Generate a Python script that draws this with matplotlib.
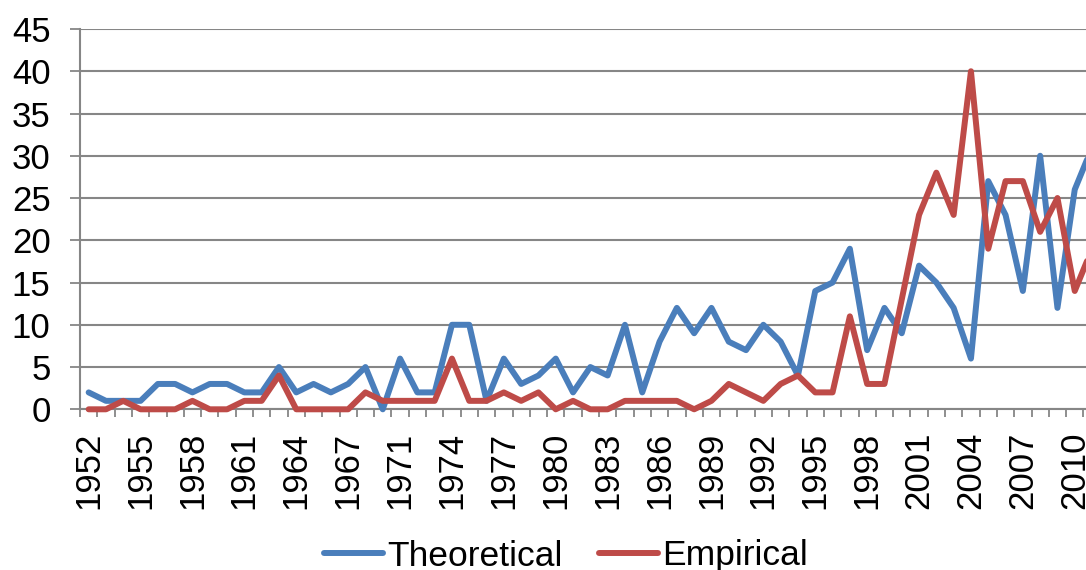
import matplotlib
matplotlib.use("Agg")
import matplotlib.pyplot as plt
import numpy as np

categories = ["1952", "1953", "1954", "1955", "1956", "1957", "1958", "1959", "1960",
              "1961", "1962", "1963", "1964", "1965", "1966", "1967", "1968", "1969",
              "1971", "1972", "1973", "1974", "1975", "1976", "1977", "1978", "1979",
              "1980", "1981", "1982", "1983", "1984", "1985", "1986", "1987", "1988",
              "1989", "1990", "1991", "1992", "1993", "1994", "1995", "1996", "1997",
              "1998", "1999", "2000", "2001", "2002", "2003", "2004", "2005", "2006",
              "2007", "2008", "2009", "2010", "2011"]

theoretical = [2, 1, 1, 1, 3, 3, 2, 3, 3, 2, 2, 5, 2, 3, 2, 3, 5, 0,
               6, 2, 2, 10, 10, 1, 6, 3, 4, 6, 2, 5, 4, 10, 2, 8, 12, 9, 12, 8, 7, 10,
               8, 4, 14, 15, 19, 7, 12, 9, 17, 15, 12, 6, 27, 23, 14, 30, 12, 26, 31]

empirical = [0, 0, 1, 0, 0, 0, 1, 0, 0, 1, 1, 4, 0, 0, 0, 0, 2, 1,
             1, 1, 1, 6, 1, 1, 2, 1, 2, 0, 1, 0, 0, 1, 1, 1, 1, 0, 1, 3, 2, 1,
             3, 4, 2, 2, 11, 3, 3, 13, 23, 28, 23, 40, 19, 27, 27, 21, 25, 14, 19]

series_names = ["Theoretical", "Empirical"]
y_ticks = [0, 5, 10, 15, 20, 25, 30, 35, 40, 45]

W, H = 1086, 570
fig = plt.figure(figsize=(W / 100, H / 100), dpi=100)
plt.rcParams['font.family'] = ['Liberation Sans', 'DejaVu Sans']

n = len(categories)
step = 17.3
left_px, y0_px, ytop_px = 80, 409.3, 29.0
ax = fig.add_axes([left_px / W, (H - y0_px) / H, step * n / W, (y0_px - ytop_px) / H])

x = np.arange(n)
blue = "#4A7EBB"
red = "#BE4B48"
ax.plot(x, theoretical, color=blue, lw=4.3, solid_joinstyle="round",
        solid_capstyle="round", label=series_names[0], zorder=3, clip_on=False)
ax.plot(x, empirical, color=red, lw=4.3, solid_joinstyle="round",
        solid_capstyle="round", label=series_names[1], zorder=4, clip_on=False)

ax.set_xlim(-0.5, n - 0.5)
ax.set_ylim(0, 45)

grid_c = "#868686"
ax.set_yticks(y_ticks)
ax.yaxis.grid(True, color=grid_c, lw=1.5)
ax.set_axisbelow(True)
ax.tick_params(axis="y", length=7.2, width=1.3, color=grid_c, pad=14, labelsize=25)

ax.set_xticks(x[::3])
ax.set_xticklabels(categories[::3], rotation=90)
ax.set_xticks(np.arange(n + 1) - 0.5, minor=True)
ax.tick_params(axis="x", which="major", length=0, pad=16, labelsize=25)
ax.tick_params(axis="x", which="minor", length=6, width=1.3, color=grid_c)

for s in ["top", "right"]:
    ax.spines[s].set_visible(False)
ax.spines["left"].set_color(grid_c)
ax.spines["left"].set_linewidth(1.5)
ax.spines["bottom"].set_color(grid_c)
ax.spines["bottom"].set_linewidth(1.5)

handles, labels = ax.get_legend_handles_labels()
leg = fig.legend(handles, labels, loc="center", ncol=2,
                 bbox_to_anchor=(566 / W, 1 - 556 / H), frameon=False,
                 fontsize=25.5, handlelength=1.65, handletextpad=0.12,
                 columnspacing=1.05, borderpad=0)

fig.savefig("out.png", dpi=100)
